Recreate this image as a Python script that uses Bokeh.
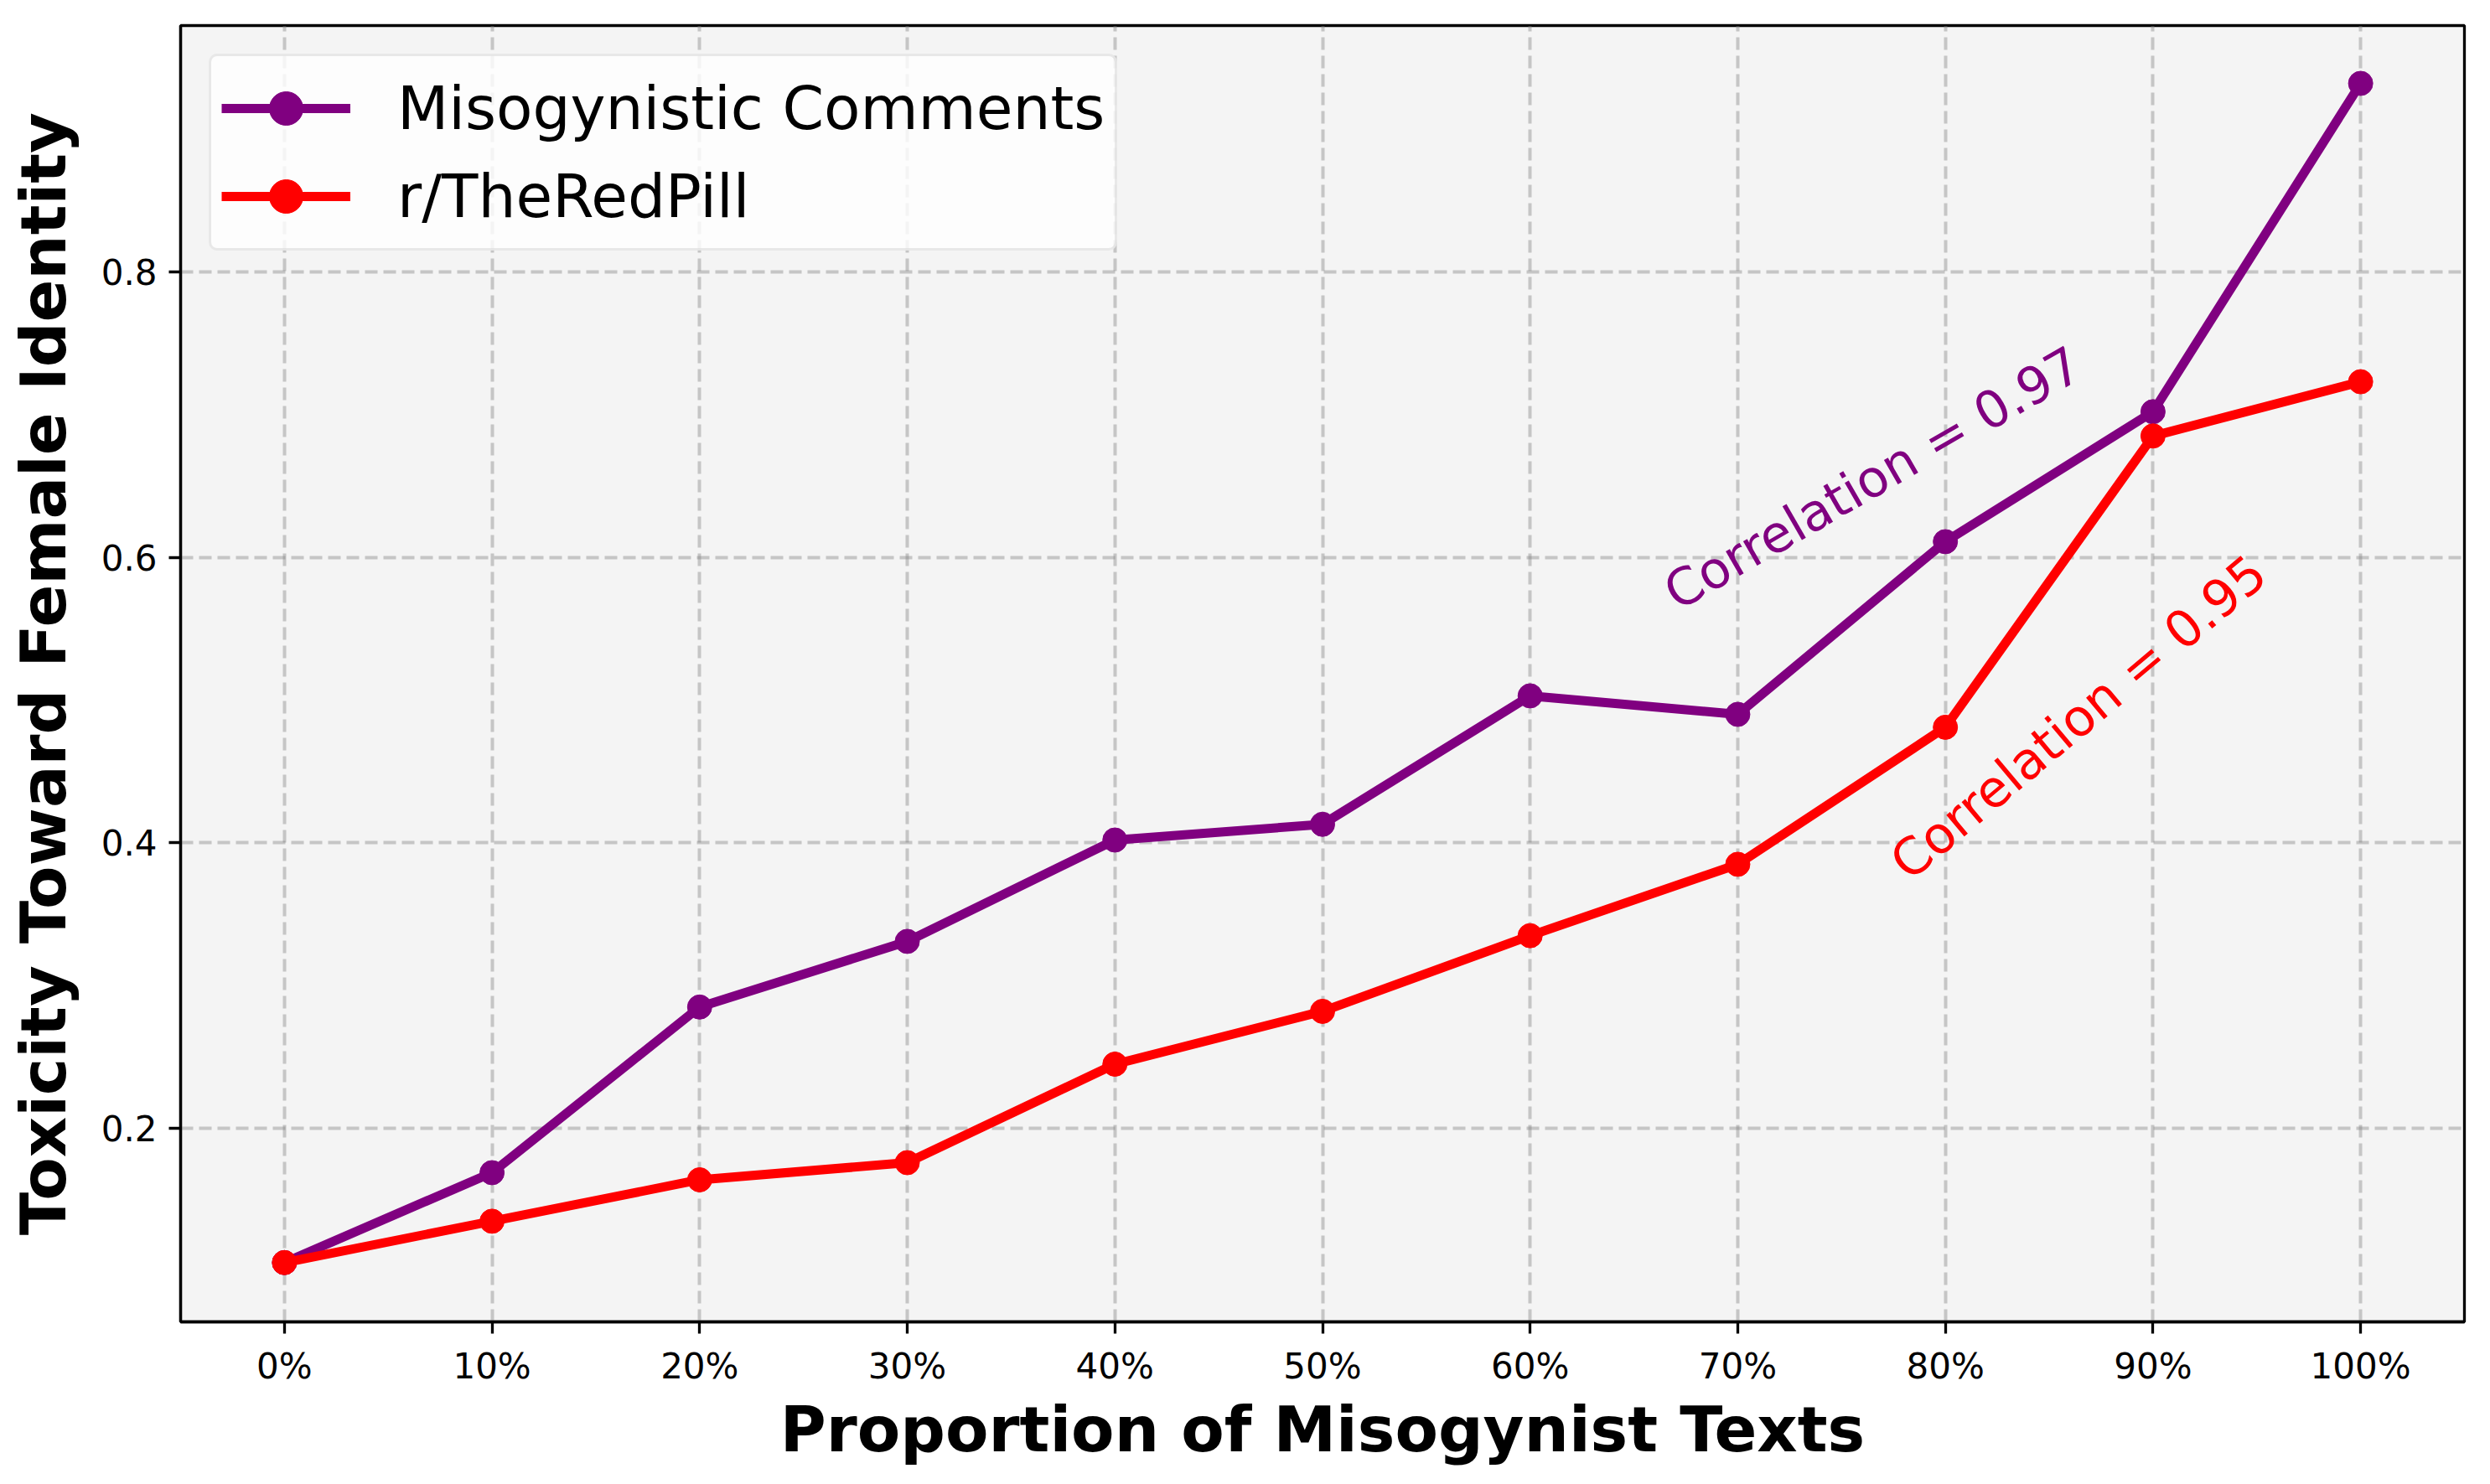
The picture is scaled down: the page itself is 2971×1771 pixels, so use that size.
import math
from bokeh.plotting import figure
from bokeh.models import Range1d, FixedTicker, Legend, LegendItem
from bokeh.core.properties import value
from bokeh.embed import file_html
from bokeh.resources import INLINE

# ---- data ----
x_pct = [0, 10, 20, 30, 40, 50, 60, 70, 80, 90, 100]
tick_labels = ["0%", "10%", "20%", "30%", "40%", "50%", "60%", "70%", "80%", "90%", "100%"]
misogynistic = [0.106, 0.169, 0.285, 0.331, 0.402, 0.413, 0.503, 0.490, 0.611, 0.702, 0.932]
redpill = [0.106, 0.135, 0.164, 0.176, 0.245, 0.282, 0.335, 0.385, 0.481, 0.685, 0.723]
series_names = ["Misogynistic Comments", "r/TheRedPill"]
correlations = ["Correlation = 0.97", "Correlation = 0.95"]
y_ticks = [0.2, 0.4, 0.6, 0.8]

PURPLE = "#800080"
RED = "#ff0000"
FONT = "DejaVu Sans"

p = figure(width=2955, height=1755,
           x_range=Range1d(-5, 105), y_range=Range1d(0.0645, 0.9725),
           output_backend="svg", toolbar_location=None,
           min_border_left=215, min_border_top=30,
           min_border_right=15, min_border_bottom=178)

p.background_fill_color = "#f4f4f4"
p.border_fill_color = "white"
p.outline_line_color = "black"
p.outline_line_width = 3.3

# grid
for g in (p.xgrid, p.ygrid):
    g.grid_line_color = "gray"
    g.grid_line_alpha = 0.4
    g.grid_line_width = 4
    g.grid_line_dash = "15 7"
p.xgrid.ticker = FixedTicker(ticks=x_pct)
p.ygrid.ticker = FixedTicker(ticks=y_ticks)

# axes
p.xaxis.ticker = FixedTicker(ticks=x_pct)
p.xaxis.major_label_overrides = {x: lab for x, lab in zip(x_pct, tick_labels)}
p.yaxis.ticker = FixedTicker(ticks=y_ticks)
p.xaxis.axis_label = "Proportion of Misogynist Texts"
p.yaxis.axis_label = "Toxicity Toward Female Identity"
for ax in (p.xaxis, p.yaxis):
    ax.axis_label_text_font = FONT
    ax.axis_label_text_font_size = "75px"
    ax.axis_label_text_font_style = "bold"
    ax.axis_label_text_color = "black"
    ax.major_label_text_font = FONT
    ax.major_label_text_font_size = "42px"
    ax.major_label_text_color = "black"
    ax.major_tick_out = 14
    ax.major_tick_in = 0
    ax.minor_tick_out = 0
    ax.minor_tick_in = 0
    ax.major_tick_line_width = 3.3
    ax.major_tick_line_color = "black"
    ax.axis_line_width = 3.3
    ax.axis_line_color = "black"
    ax.major_label_standoff = 14
p.xaxis.axis_label_standoff = 4
p.yaxis.axis_label_standoff = 22

# series
l1 = p.line(x_pct, misogynistic, line_color=PURPLE, line_width=11)
s1 = p.scatter(x_pct, misogynistic, size=29, fill_color=PURPLE, line_color=PURPLE)
l2 = p.line(x_pct, redpill, line_color=RED, line_width=11)
s2 = p.scatter(x_pct, redpill, size=29, fill_color=RED, line_color=RED)

# annotations
p.text(x=[76.5], y=[0.6555], text=[correlations[0]], angle=math.radians(30),
       text_color=PURPLE, text_font=value(FONT), text_font_size="61px",
       text_align="center", text_baseline="middle")
p.text(x=[86.4], y=[0.488], text=[correlations[1]], angle=math.radians(40),
       text_color=RED, text_font=value(FONT), text_font_size="61px",
       text_align="center", text_baseline="middle")

legend = Legend(items=[LegendItem(label=series_names[0], renderers=[l1, s1]),
                       LegendItem(label=series_names[1], renderers=[l2, s2])],
                location="top_left", margin=34)
legend.label_text_font = FONT
legend.label_text_font_size = "71px"
legend.label_text_color = "black"
legend.glyph_width = 154
legend.glyph_height = 100
legend.label_height = 80
legend.label_standoff = 56
legend.spacing = 5
legend.padding = 12
legend.border_line_color = "#d4d4d4"
legend.border_line_width = 3.5
legend.background_fill_color = "white"
legend.background_fill_alpha = 0.8
if "border_radius" in legend.properties():
    legend.border_radius = 10
p.add_layout(legend, "center")

open("out.html", "w").write(file_html(p, INLINE))
